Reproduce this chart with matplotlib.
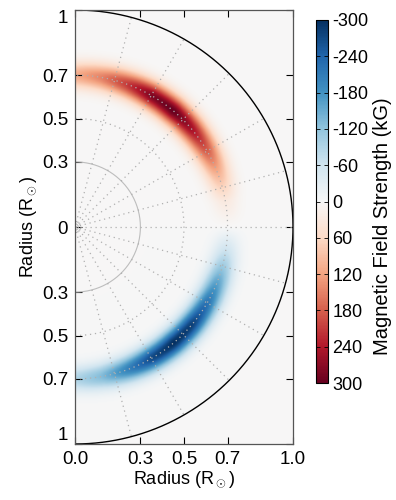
import numpy as np
import matplotlib
matplotlib.use('Agg')
import matplotlib.pyplot as plt

plt.rcParams['font.family'] = ['Liberation Sans', 'DejaVu Sans']
plt.rcParams['mathtext.fontset'] = 'custom'
plt.rcParams['mathtext.rm'] = 'Liberation Sans'
plt.rcParams['font.size'] = 13
plt.rcParams['axes.unicode_minus'] = False

# Latitudinal profile of the toroidal field (degrees, kG)
lat_nodes = [-90, -80, -70, -60, -50, -40, -30, -20, -10, 0, 10, 20, 30, 40, 50, 60, 70, 80, 90]
field_amp = [-90, -130, -200, -270, -300, -280, -220, -150, -70, 0, 30, 100, 180, 250, 300, 280, 210, 150, 110]
band_radius = 0.70   # R_sun
band_width = 0.06    # R_sun

x_ticks = [0.0, 0.3, 0.5, 0.7, 1.0]
x_labels = ['0.0', '0.3', '0.5', '0.7', '1.0']
y_ticks = [-1, -0.7, -0.5, -0.3, 0, 0.3, 0.5, 0.7, 1]
y_labels = ['1', '0.7', '0.5', '0.3', '0', '0.3', '0.5', '0.7', '1']
cbar_ticks = [-300, -240, -180, -120, -60, 0, 60, 120, 180, 240, 300]

# Field on a grid
xs = np.linspace(0, 1, 400)
ys = np.linspace(-1, 1, 800)
X, Y = np.meshgrid(xs, ys)
R = np.hypot(X, Y)
LAT = np.degrees(np.arctan2(Y, X))
B = np.interp(LAT, lat_nodes, field_amp) * np.exp(-((R - band_radius) / band_width) ** 2)
B[R > 1] = 0

fig = plt.figure(figsize=(3.96, 5.0), dpi=100)
ax = fig.add_axes([75 / 396, 56 / 500, 218 / 396, 434 / 500])
im = ax.imshow(B, extent=[0, 1, -1, 1], origin='lower', cmap='RdBu_r',
               vmin=-300, vmax=300, interpolation='bilinear', aspect='auto')

# polar grid
grid_kw = dict(color='#b0b0b0', lw=0.9, ls=(0, (1, 3)))
th = np.radians(np.linspace(-90, 90, 300))
for r in [0.5, 0.7]:
    ax.plot(r * np.cos(th), r * np.sin(th), **grid_kw)
ax.plot(0.3 * np.cos(th), 0.3 * np.sin(th), color='#bdbdbd', lw=0.8)
ax.plot(0.015 * np.cos(th), 0.015 * np.sin(th), color='#bdbdbd', lw=0.8)
for a in range(-75, 90, 15):
    t = np.radians(a)
    ax.plot([0, np.cos(t)], [0, np.sin(t)], **grid_kw)
ax.plot(np.cos(th), np.sin(th), color='black', lw=1.0)

ax.set_xlim(0, 1)
ax.set_ylim(-1, 1)
ax.set_xticks(x_ticks)
ax.set_xticklabels(x_labels, fontsize=13.5)
ax.set_yticks(y_ticks)
ax.set_yticklabels(y_labels, fontsize=13.5)
ax.get_yticklabels()[0].set_va('bottom')
ax.get_yticklabels()[-1].set_va('top')
ax.tick_params(direction='in', top=True, right=True, length=5, width=0.8, pad=5)
for s in ax.spines.values():
    s.set_color('#555555')
    s.set_linewidth(0.9)
ax.set_xlabel(r'Radius (R$_\odot$)', labelpad=1)
ax.set_ylabel(r'Radius (R$_\odot$)', labelpad=2)

cax = fig.add_axes([316 / 396, 117 / 500, 12 / 396, 363 / 500])
cb = fig.colorbar(im, cax=cax, ticks=cbar_ticks)
cax.invert_yaxis()
cax.tick_params(direction='in', left=True, right=True, length=3, width=0.6, pad=3)
cb.outline.set_linewidth(0.8)
fig.text(383 / 396, 1 - 226 / 500, 'Magnetic Field Strength (kG)', rotation=90,
         ha='center', va='center', fontsize=14.5)

fig.savefig('out.png', dpi=100)
